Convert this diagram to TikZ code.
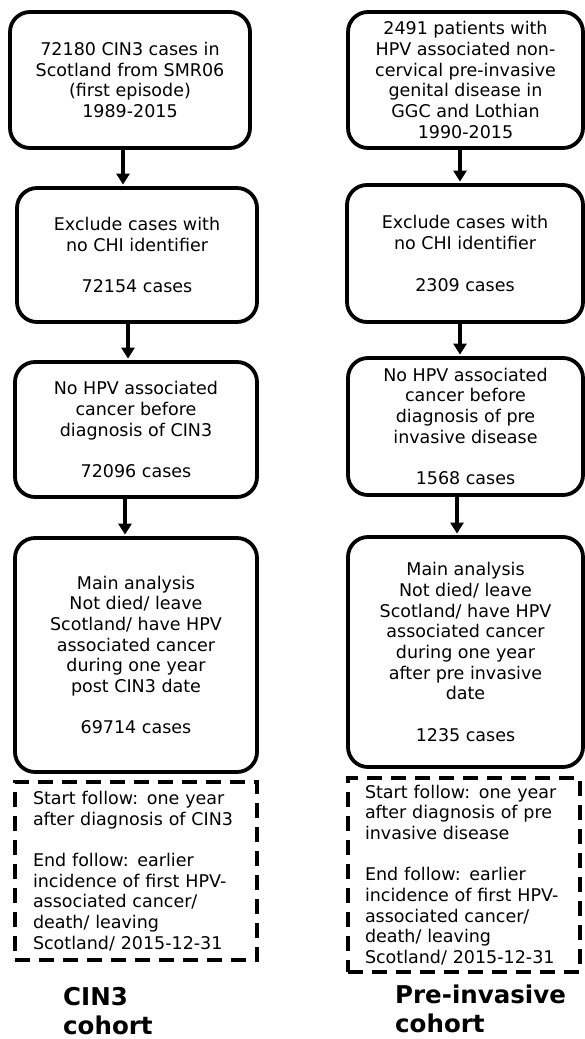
\documentclass[tikz,border=0pt]{standalone}
\usepackage{fontspec}
\setmainfont{DejaVu Sans}
\usetikzlibrary{arrows.meta}
\tikzset{
  box/.style={draw, line width=3.8pt, rounded corners=20pt, align=center, inner sep=0pt,
    font=\fontsize{17.5}{20.7}\selectfont},
  dbox/.style={draw, line width=4pt, dash pattern=on 15pt off 9pt, align=left, inner ysep=0pt,
    font=\fontsize{17.5}{20.7}\selectfont},
  arr/.style={line width=3.5pt, -{Triangle[width=13pt,length=11pt]}, shorten >=1.5pt},
  ttl/.style={align=left, inner sep=0pt, anchor=base west, font=\fontsize{24.5}{29}\selectfont\bfseries}
}
\begin{document}
\begin{tikzpicture}[x=1pt,y=-1pt]
\useasboundingbox (0,0) rectangle (585,1039);
% left column
\node[box, minimum width=240pt, minimum height=136pt] (L1) at (130,80)
  {72180 CIN3 cases in\\Scotland from SMR06\\(first episode)\\1989-2015};
\node[box, minimum width=240pt, minimum height=134pt] (L2) at (137,255)
  {Exclude cases with\\no CHI identifier\\[20.7pt]72154 cases};
\node[box, minimum width=242pt, minimum height=135pt] (L3) at (136,429.5)
  {No HPV associated\\cancer before\\diagnosis of CIN3\\[20.7pt]72096 cases};
\node[box, minimum width=242pt, minimum height=234pt] (L4) at (136,655)
  {Main analysis\\Not died/ leave\\Scotland/ have HPV\\associated cancer\\during one year\\post CIN3 date\\[20.7pt]69714 cases};
\node[dbox, text width=206pt, inner xsep=18pt, minimum height=178pt] (L5) at (136,871)
  {Start follow: one year\\after diagnosis of CIN3\\[20.7pt]End follow: earlier\\incidence of first HPV-\\associated cancer/\\death/ leaving\\Scotland/ 2015-12-31};
\node[ttl] (LT) at (63,1034) {CIN3\\cohort};
% right column
\node[box, minimum width=235pt, minimum height=136pt] (R1) at (465.5,80)
  {2491 patients with\\HPV associated non-\\cervical pre-invasive\\genital disease in\\GGC and Lothian\\1990-2015};
\node[box, minimum width=236pt, minimum height=137pt] (R2) at (465,253.5)
  {Exclude cases with\\no CHI identifier\\[20.7pt]2309 cases};
\node[box, minimum width=235pt, minimum height=137pt] (R3) at (465.5,426.5)
  {No HPV associated\\cancer before\\diagnosis of pre\\invasive disease\\[20.7pt]1568 cases};
\node[box, minimum width=235pt, minimum height=230pt] (R4) at (465.5,652)
  {Main analysis\\Not died/ leave\\Scotland/ have HPV\\associated cancer\\during one year\\after pre invasive\\date\\[20.7pt]1235 cases};
\node[dbox, text width=198pt, inner xsep=17pt, minimum height=194pt] (R5) at (464,875)
  {Start follow: one year\\after diagnosis of pre\\invasive disease\\[20.7pt]End follow: earlier\\incidence of first HPV-\\associated cancer/\\death/ leaving\\Scotland/ 2015-12-31};
\node[ttl] (RT) at (395,1032) {Pre-invasive\\cohort};
% arrows
\draw[arr] ([xshift=-7pt]L1.south) -- ([xshift=-7pt]L1.south |- L2.north);
\draw[arr] ([xshift=-9pt]L2.south) -- ([xshift=-9pt]L2.south |- L3.north);
\draw[arr] ([xshift=-11pt]L3.south) -- ([xshift=-11pt]L3.south |- L4.north);
\draw[arr] ([xshift=-5.5pt]R1.south) -- ([xshift=-5.5pt]R1.south |- R2.north);
\draw[arr] ([xshift=-5pt]R2.south) -- ([xshift=-5pt]R2.south |- R3.north);
\draw[arr] ([xshift=-8.5pt]R3.south) -- ([xshift=-8.5pt]R3.south |- R4.north);
\end{tikzpicture}
\end{document}
